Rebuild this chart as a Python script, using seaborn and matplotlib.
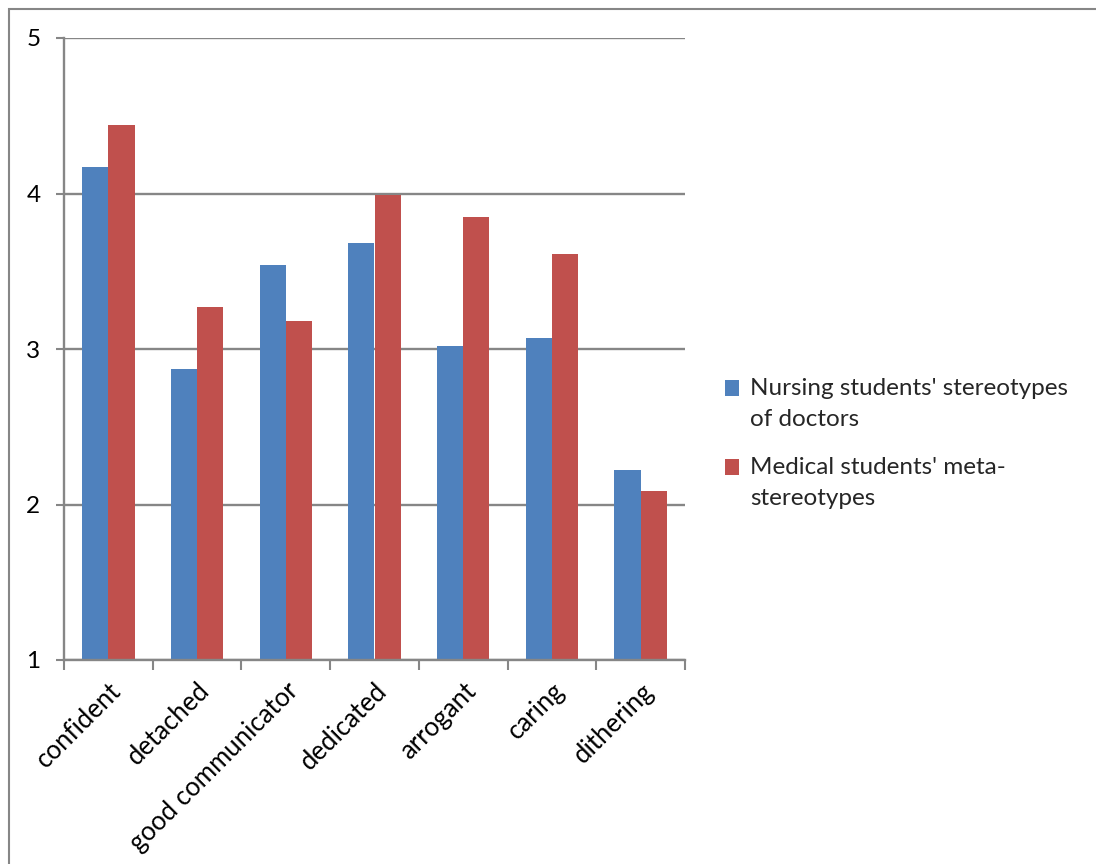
import matplotlib
matplotlib.use("Agg")
import matplotlib.pyplot as plt
from matplotlib.patches import Patch, Rectangle
from matplotlib.legend_handler import HandlerPatch
from matplotlib.transforms import ScaledTranslation
import pandas as pd
import seaborn as sns

categories = ["confident", "detached", "good communicator", "dedicated",
              "arrogant", "caring", "dithering"]
nursing = [4.17, 2.87, 3.54, 3.68, 3.02, 3.07, 2.22]
medical = [4.44, 3.27, 3.18, 3.99, 3.85, 3.61, 2.09]
series_names = ["Nursing students' stereotypes of doctors",
                "Medical students' meta-stereotypes"]
legend_labels = ["Nursing students' stereotypes\nof doctors",
                 "Medical students' meta-\nstereotypes"]
colors = ["#4F81BD", "#C0504D"]
y_ticks = [1, 2, 3, 4, 5]

df = pd.DataFrame({
    "trait": categories * 2,
    "score": nursing + medical,
    "group": [series_names[0]] * len(categories) + [series_names[1]] * len(categories),
})

sns.set_style("white")
plt.rcParams["font.family"] = ["Lato", "DejaVu Sans"]
grey = "#868686"
fs = 17.5

fig = plt.figure(figsize=(10.96, 8.64), dpi=100)
ax = fig.add_axes([64 / 1096, 1 - 660 / 864, (685 - 64) / 1096, (660 - 38) / 864])

sns.barplot(data=df, x="trait", y="score", hue="group", order=categories,
            hue_order=series_names, palette=colors, width=0.59, gap=0,
            saturation=1, linewidth=0, ax=ax, legend=False)

ax.set_ylim(1, 5)
ax.set_xlim(-0.5, len(categories) - 0.5)
ax.set_yticks(y_ticks)
ax.set_yticklabels([str(t) for t in y_ticks], fontsize=fs, color="black")
ax.set_xlabel("")
ax.set_ylabel("")

# horizontal gridlines behind bars
ax.set_axisbelow(True)
ax.yaxis.grid(True, color=grey, linewidth=1.7)
ax.xaxis.grid(False)

for side in ["top", "right"]:
    ax.spines[side].set_visible(False)
for side in ["left", "bottom"]:
    ax.spines[side].set_color(grey)
    ax.spines[side].set_linewidth(1.7)

# category labels at centres, tick marks at category boundaries
ax.set_xticks(range(len(categories)))
ax.set_xticklabels(categories, rotation=45, ha="right", rotation_mode="anchor",
                   fontsize=18.5, color="black")
shift = ScaledTranslation(-4 / 100, 0, fig.dpi_scale_trans)
for lab in ax.get_xticklabels():
    lab.set_transform(lab.get_transform() + shift)
ax.set_xticks([i - 0.5 for i in range(len(categories) + 1)], minor=True)
ax.tick_params(axis="x", which="major", bottom=True, length=0, pad=13)
ax.tick_params(axis="x", which="minor", bottom=True, length=7, width=1.5,
               color=grey, direction="out")
ax.tick_params(axis="y", which="major", left=True, length=6, width=1.5,
               color=grey, direction="out", pad=11)


def first_line_square(legend, orig_handle, xdescent, ydescent, width, height,
                      fontsize):
    # square key aligned with the first line of a two-line label
    return Rectangle((-xdescent, -ydescent + 11.2), width, height)


handles = [Patch(facecolor=c, edgecolor="none") for c in colors]
leg = fig.legend(handles, legend_labels, loc="upper left",
                 bbox_to_anchor=(715 / 1096, 1 - 368 / 864), frameon=False,
                 handlelength=0.6, handleheight=0.6,
                 handletextpad=0.45, labelspacing=1.1, borderaxespad=0,
                 prop={"size": fs},
                 handler_map={Patch: HandlerPatch(patch_func=first_line_square)})
for t in leg.get_texts():
    t.set_linespacing(1.6)

# chart-area border
fig.add_artist(Rectangle((9 / 1096, -0.2), 1.3, 1.2 - 9 / 864,
                         transform=fig.transFigure, fill=False,
                         edgecolor=grey, linewidth=1.5))

fig.savefig("out.png", dpi=100)
